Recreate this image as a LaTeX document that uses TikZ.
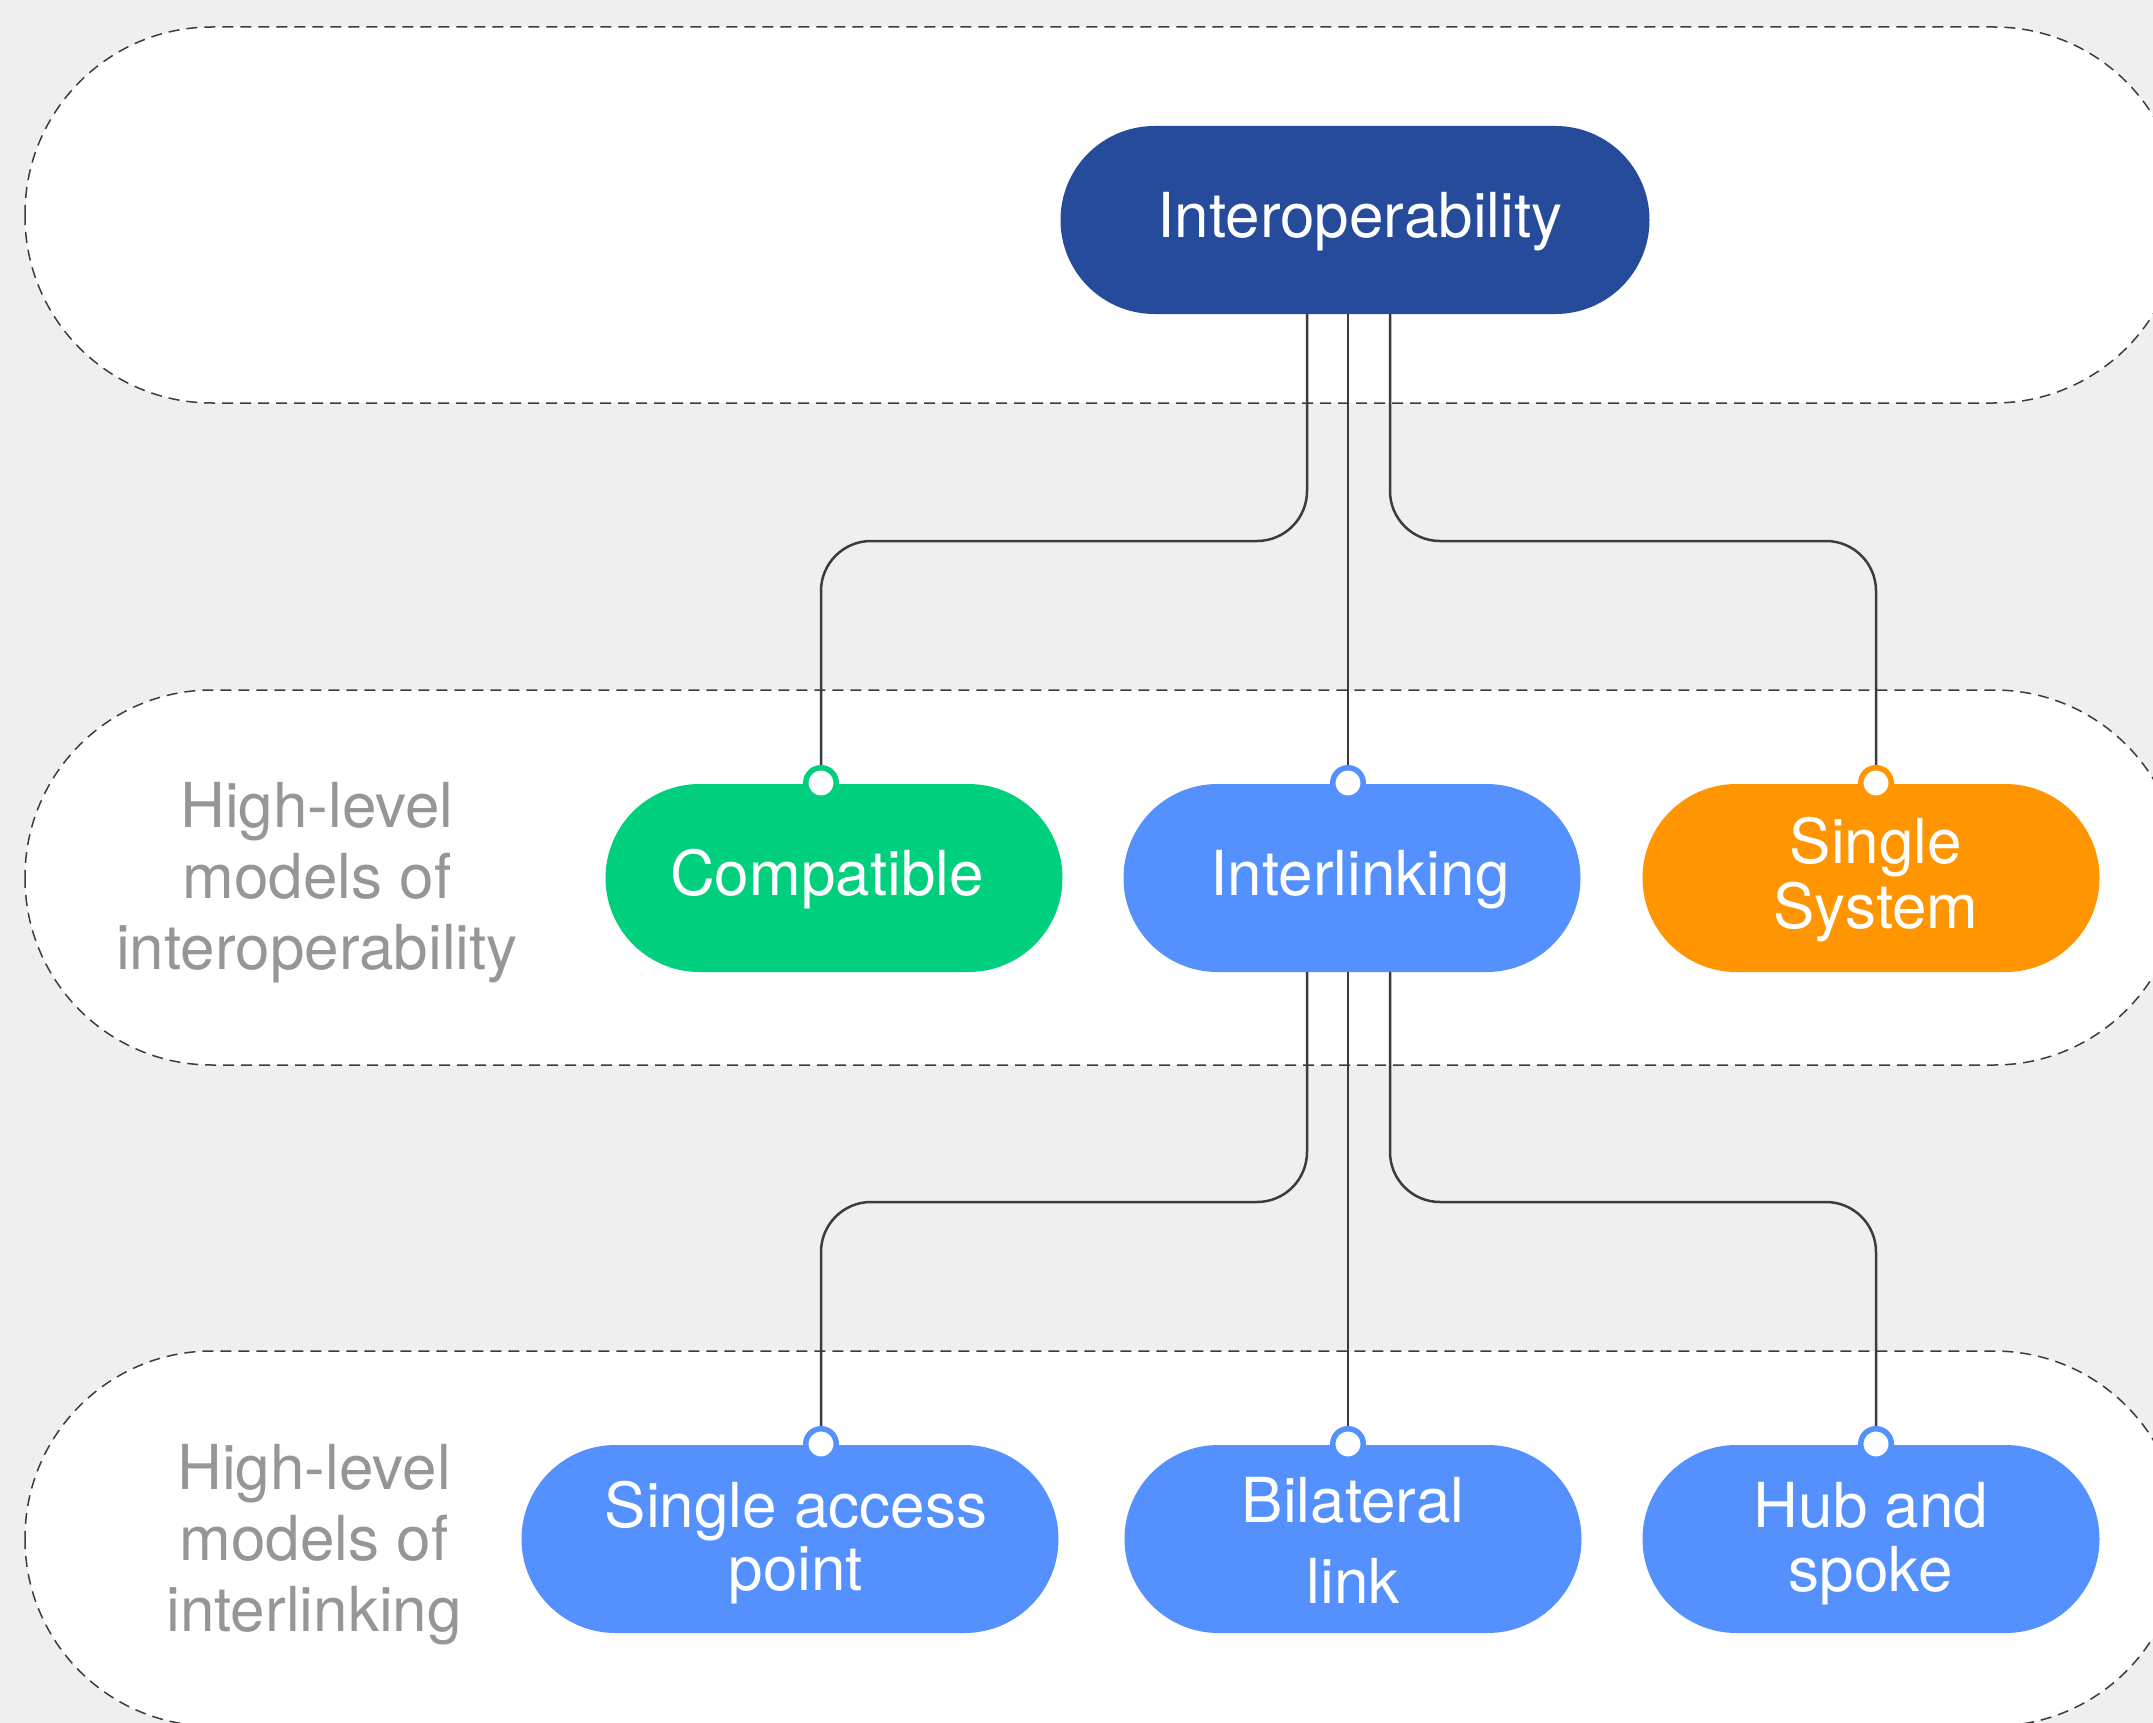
\documentclass[tikz,border=0pt]{standalone}
\usepackage{fontspec}
\setmainfont{TeX Gyre Heros}
\definecolor{bgc}{HTML}{EFEFEF}
\definecolor{navy}{HTML}{264B9A}
\definecolor{grn}{HTML}{00D07E}
\definecolor{blu}{HTML}{5491FF}
\definecolor{org}{HTML}{FF9500}
\definecolor{lbl}{HTML}{969696}
\definecolor{ln}{HTML}{3C3C3C}
% shifted text: #1 horizontal shift, #2 downward shift, #3 lines
\newcommand\shtx[3]{\hspace*{#1}\raisebox{-#2}[\height][\depth]{\begin{tabular}{@{}c@{}}#3\end{tabular}}\hspace*{-#1}}
\begin{document}
\begin{tikzpicture}[x=1pt,y=-1pt,
  band/.style={draw=ln, dash pattern=on 11pt off 7pt, line width=1.5pt, fill=white, rounded corners=187pt},
  pill/.style={rectangle, rounded corners=94pt, minimum height=188pt, text=white, align=center, font=\fontsize{62}{62}\selectfont, inner sep=0pt},
  conn/.style={draw=ln, line width=2.5pt, rounded corners=50pt},
  dot/.style={circle, draw=#1, fill=white, line width=5.5pt, minimum size=30.5pt, inner sep=0pt},
  lab/.style={text=lbl, align=center, font=\fontsize{62}{71}\selectfont}]
\useasboundingbox (0,0) rectangle (2153,1723);
\clip (0,0) rectangle (2153,1723);
\fill[bgc] (0,0) rectangle (2153,1723);
% bands
\path[band] (25,27) rectangle (2181,403);
\path[band] (25,690) rectangle (2181,1065);
\path[band] (25,1351) rectangle (2181,1726);
% nodes
\node[pill, fill=navy, minimum width=589pt] (top) at (1355,220) {\shtx{5pt}{4pt}{Interoperability}};
\node[pill, fill=grn, minimum width=457pt] (compat) at (834,878) {\shtx{-7pt}{4pt}{Compatible}};
\node[pill, fill=blu, minimum width=457pt] (inter) at (1352,878) {\shtx{8pt}{4pt}{Interlinking}};
\node[pill, fill=org, minimum width=457pt] (single) at (1871,878) {\shtx{5pt}{4pt}{Single\\System}};
\node[pill, fill=blu, minimum width=537pt] (sap) at (790,1539) {\shtx{6pt}{6pt}{Single access\\point}};
\node[pill, fill=blu, minimum width=457pt] (bil) at (1353,1539) {\shtx{0pt}{11pt}{Bilateral\\[17pt]link}};
\node[pill, fill=blu, minimum width=457pt] (hub) at (1871,1539) {\shtx{0pt}{7pt}{Hub and\\spoke}};
% labels
\node[lab] (l1) at (317,883) {High-level\\models of\\interoperability};
\node[lab] (l2) at (314,1545) {High-level\\models of\\interlinking};
% coordinates
\coordinate (xa) at (1307,0);
\coordinate (xb) at (1348,0);
\coordinate (xc) at (1390,0);
\coordinate (j1) at (821,541);
\coordinate (j2) at (1876,541);
\coordinate (j3) at (821,1202);
\coordinate (j4) at (1876,1202);
\coordinate (p1) at (821,783);
\coordinate (p2) at (1348,783);
\coordinate (p3) at (1876,783);
\coordinate (p4) at (821,1444);
\coordinate (p5) at (1348,1444);
\coordinate (p6) at (1876,1444);
% connectors
\draw[conn] (top.south -| xa) |- (j1) -- (p1);
\draw[conn] (top.south -| xb) -- (p2);
\draw[conn] (top.south -| xc) |- (j2) -- (p3);
\draw[conn] (inter.south -| xa) |- (j3) -- (p4);
\draw[conn] (inter.south -| xb) -- (p5);
\draw[conn] (inter.south -| xc) |- (j4) -- (p6);
% dots
\node[dot=grn] (d1) at (p1) {};
\node[dot=blu] (d2) at (p2) {};
\node[dot=org] (d3) at (p3) {};
\node[dot=blu] (d4) at (p4) {};
\node[dot=blu] (d5) at (p5) {};
\node[dot=blu] (d6) at (p6) {};
\end{tikzpicture}
\end{document}
